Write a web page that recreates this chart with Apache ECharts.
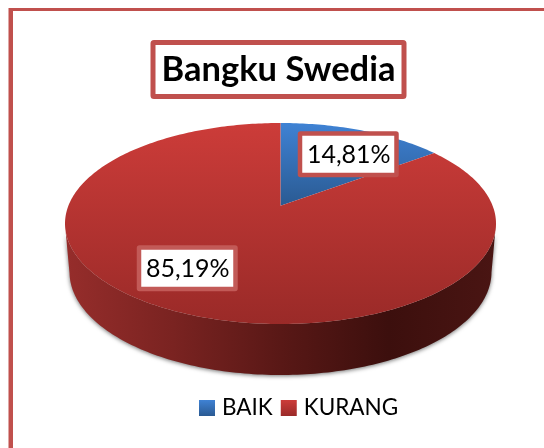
<!DOCTYPE html>
<html>
<head>
<meta charset="utf-8">
<style>html,body{margin:0;padding:0;background:#fff}#c{width:544px;height:448px}</style>
<script src="https://cdn.jsdelivr.net/npm/echarts@6/dist/echarts.min.js"></script>
</head>
<body>
<div id="c"></div>
<script>
const categories = ['BAIK', 'KURANG'];
const seriesValues = [14.81, 85.19];
const valueLabels = ['14,81%', '85,19%'];
const chartTitle = 'Bangku Swedia';

const FONT = 'Lato, "Open Sans", sans-serif';
const FRAME = '#c0504d';
const TOP = { cx: 280.5, cy: 223.5, rx: 215.5, ry: 100.5 };
const BASE = { cx: 280.5, cy: 272, rx: 211, ry: 103 };
const TILT = 0.177;
const FILLS = [['#3f82d4', '#2a5a92'], ['#cc3c39', '#9a2a28']];
const LABEL_BOXES = [
  { x: 300, y: 133.5, w: 96.5, h: 41.5, stroke: '#c0504d' },
  { x: 139, y: 247.5, w: 96.5, h: 41.5, stroke: '#c25a57' }
];
const total = seriesValues.reduce((a, b) => a + b, 0);

function vgrad(y, h, c) {
  return { type: 'linear', x: 0, y: y, x2: 0, y2: y + h, global: true,
    colorStops: [{ offset: 0, color: c[0] }, { offset: 1, color: c[1] }] };
}
function swatch(c) {
  return { type: 'linear', x: 0, y: 0, x2: 0, y2: 1,
    colorStops: [{ offset: 0, color: c[0] }, { offset: 1, color: c[1] }] };
}
// rim position of a share of the pie, clockwise from 12 o'clock, seen in perspective
function rim(share) {
  const t = share * 2 * Math.PI, X = Math.sin(t), Y = Math.cos(t);
  const d = 1 + TILT * Y;
  return [X * Math.sqrt(1 - TILT * TILT) / d, (Y + TILT) / d];
}
function onEllipse(e, p) { return [e.cx + e.rx * p[0], e.cy - e.ry * p[1]]; }

function sliceRenderer(idx) {
  return function (params, api) {
    const start = seriesValues.slice(0, idx).reduce((a, b) => a + b, 0) / total;
    const end = start + api.value(0) / total;
    const steps = Math.max(8, Math.round((end - start) * 360));
    const topPts = [[TOP.cx, TOP.cy - TOP.ry * TILT]];
    const wallTop = [], wallBase = [];
    for (let i = 0; i <= steps; i++) {
      const p = rim(start + (end - start) * i / steps);
      topPts.push(onEllipse(TOP, p));
      if (p[1] <= 0.004) {
        wallTop.push(onEllipse(TOP, p));
        wallBase.push(onEllipse(BASE, p));
      }
    }
    const children = [];
    if (wallTop.length > 1) {
      children.push({
        type: 'polygon',
        shape: { points: wallTop.concat(wallBase.reverse()) },
        style: {
          fill: { type: 'linear', x: 65, y: 0, x2: 496, y2: 0, global: true, colorStops: [
            { offset: 0, color: '#962d2b' }, { offset: 0.25, color: '#7a2321' },
            { offset: 0.5, color: '#591816' }, { offset: 0.75, color: '#3c0f0d' },
            { offset: 1, color: '#4a1513' }] },
          shadowColor: 'rgba(0,0,0,0.55)', shadowBlur: 4, shadowOffsetY: 1
        }
      });
    }
    children.push({
      type: 'polygon',
      shape: { points: topPts },
      style: { fill: idx === 0 ? vgrad(123, 83, FILLS[0]) : vgrad(TOP.cy - TOP.ry, 2 * TOP.ry, FILLS[1]) }
    });
    return { type: 'group', children: children };
  };
}

function labelRenderer(params, api) {
  const b = LABEL_BOXES[params.dataIndex];
  return {
    type: 'group',
    children: [
      { type: 'rect', shape: { x: b.x, y: b.y, width: b.w, height: b.h, r: 0.5 },
        style: { fill: '#fff', stroke: b.stroke, lineWidth: 4.5 } },
      { type: 'text', x: b.x + b.w / 2 + 0.5, y: b.y + b.h / 2 + 0.5,
        style: { text: valueLabels[params.dataIndex], fill: '#000',
          font: '25px ' + FONT, align: 'center', verticalAlign: 'middle' } }
    ]
  };
}

const chart = echarts.init(document.getElementById('c'), null, { renderer: 'canvas' });
chart.setOption({
  animation: false,
  backgroundColor: '#fff',
  title: {
    text: chartTitle, left: 152.5, top: 42.5,
    padding: [6.5, 8.5, 6.5, 9],
    borderColor: FRAME, borderWidth: 5, borderRadius: 1, backgroundColor: '#fff',
    textStyle: { fontFamily: FONT, fontSize: 34.5, fontWeight: 'bold', color: '#000', lineHeight: 41 }
  },
  legend: {
    data: categories, left: 199, top: 396.5, itemWidth: 16, itemHeight: 16, itemGap: 8,
    icon: 'rect', selectedMode: false, padding: 0,
    textStyle: { fontFamily: FONT, fontSize: 22.5, color: '#000', padding: [0, 0, 0, 2] }
  },
  graphic: [
    { type: 'rect', silent: true, z: 0, shape: { x: 10.5, y: 9.5, width: 560, height: 480 },
      style: { fill: 'none', stroke: FRAME, lineWidth: 3 } },
    { type: 'rect', silent: true, z: 0, shape: { x: 8.5, y: 8, width: 4.5, height: 460 },
      style: { fill: FRAME } }
  ],
  series: categories.map((name, i) => ({
    type: 'custom', name: name, coordinateSystem: 'none', silent: true,
    itemStyle: { color: swatch(FILLS[i]) },
    data: [[seriesValues[i]]],
    renderItem: sliceRenderer(i)
  })).concat([{
    type: 'custom', name: 'labels', coordinateSystem: 'none', silent: true,
    data: seriesValues.map(v => [v]),
    renderItem: labelRenderer
  }])
});
</script>
</body>
</html>
